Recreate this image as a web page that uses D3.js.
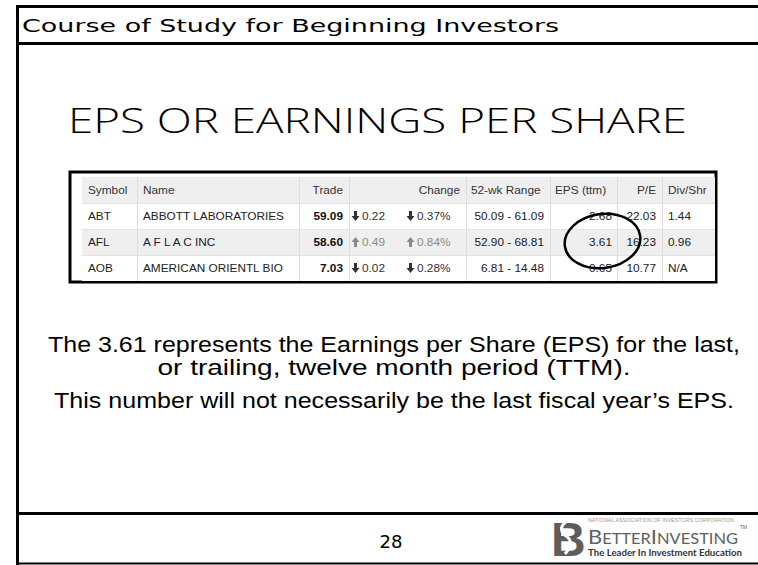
<!DOCTYPE html>
<html>
<head>
<meta charset="utf-8">
<script src="https://cdn.jsdelivr.net/npm/d3@7"></script>
<style>
  body { margin: 0; background: #fff; }
  svg { display: block; }
  .arial { font-family: "Liberation Sans", Arial, sans-serif; }
</style>
</head>
<body>
<div id="slide"></div>
<script>
// data
const headers = ['Symbol', 'Name', 'Trade', '', 'Change', '52-wk Range', 'EPS (ttm)', 'P/E', 'Div/Shr']
const symbols = ['ABT', 'AFL', 'AOB']
const names = ['ABBOTT LABORATORIES', 'A F L A C INC', 'AMERICAN ORIENTL BIO']
const trades = ['59.09', '58.60', '7.03']
const changeDir = ['down', 'up', 'down']
const changes = ['0.22', '0.49', '0.02']
const changePcts = ['0.37%', '0.84%', '0.28%']
const ranges = ['50.09 - 61.09', '52.90 - 68.81', '6.81 - 14.48']
const eps = ['2.68', '3.61', '0.65']
const pe = ['22.03', '16.23', '10.77']
const divs = ['1.44', '0.96', 'N/A']
const circled = 'AFL'

const title = 'EPS OR EARNINGS PER SHARE'
const course = 'Course of Study for Beginning Investors'
const bodyLines = [
  'The 3.61 represents the Earnings per Share (EPS) for the last,',
  'or trailing, twelve month period (TTM).',
  'This number will not necessarily be the last fiscal year\u2019s EPS.'
]
const pageNo = '28'

// const
const width = 758
const height = 565
const tableBox = { left: 70, right: 716, top: 172, bottom: 282 }

const svg = d3.select('#slide')
  .append('svg')
  .attr('width', width)
  .attr('height', height)
  .attr('viewBox', `0 0 ${width} ${height}`)

// slide frame
svg.append('rect').attr('x', 0).attr('y', 0).attr('width', width).attr('height', height).attr('fill', '#fff')
const frame = svg.append('g').attr('stroke', '#000').attr('fill', 'none')
frame.append('line').attr('x1', 16).attr('x2', width).attr('y1', 6.5).attr('y2', 6.5).attr('stroke-width', 3)
frame.append('line').attr('x1', 16).attr('x2', width).attr('y1', 43.5).attr('y2', 43.5).attr('stroke-width', 3)
frame.append('line').attr('x1', 16).attr('x2', width).attr('y1', 513.5).attr('y2', 513.5).attr('stroke-width', 3)
frame.append('line').attr('x1', 16).attr('x2', width).attr('y1', 563.5).attr('y2', 563.5).attr('stroke-width', 2)
frame.append('line').attr('x1', 17.5).attr('x2', 17.5).attr('y1', 5).attr('y2', height).attr('stroke-width', 3)

// header + title
svg.append('text')
  .attr('x', 22).attr('y', 32)
  .style('font-family', '"DejaVu Sans", sans-serif')
  .attr('font-size', 18.5)
  .attr('textLength', 537).attr('lengthAdjust', 'spacingAndGlyphs')
  .attr('fill', '#000')
  .text(course)

svg.append('text')
  .attr('x', 68).attr('y', 133)
  .style('font-family', '"Open Sans", "DejaVu Sans", sans-serif')
  .style('font-weight', 300)
  .attr('font-size', 34)
  .attr('textLength', 619).attr('lengthAdjust', 'spacingAndGlyphs')
  .attr('fill', '#000')
  .text(title)

// table
const rowKeys = ['header', ...symbols]
const y = d3.scaleBand()
  .domain(rowKeys)
  .range([177, 281])

// column edges: key, left, right, align
const cols = [
  { key: 'sym', x0: 82, x1: 137, align: 'start' },
  { key: 'name', x0: 137, x1: 299, align: 'start' },
  { key: 'trade', x0: 299, x1: 349, align: 'end' },
  { key: 'chg', x0: 349, x1: 400, align: 'start' },
  { key: 'pct', x0: 400, x1: 466, align: 'end' },
  { key: 'range', x0: 466, x1: 550, align: 'end' },
  { key: 'eps', x0: 550, x1: 617, align: 'end' },
  { key: 'pe', x0: 617, x1: 662, align: 'end' },
  { key: 'div', x0: 662, x1: 715, align: 'start' }
]
const x = d3.scaleOrdinal().domain(cols.map(c => c.key)).range(cols)

const table = svg.append('g').attr('class', 'arial').attr('font-size', 11.8)

table.append('rect')
  .attr('x', tableBox.left).attr('y', tableBox.top)
  .attr('width', tableBox.right - tableBox.left).attr('height', tableBox.bottom - tableBox.top)
  .attr('fill', '#fff').attr('stroke', '#000').attr('stroke-width', 3)

// row backgrounds
table.selectAll('rect.row')
  .data(rowKeys)
  .join('rect')
  .attr('class', 'row')
  .attr('x', 82).attr('width', 715 - 82)
  .attr('y', d => y(d)).attr('height', y.bandwidth())
  .attr('fill', (d, i) => i % 2 === 0 ? '#efefef' : '#fff')

// grid lines
table.selectAll('line.v')
  .data(cols.filter(c => c.key !== 'sym' && c.key !== 'pct'))
  .join('line')
  .attr('class', 'v')
  .attr('x1', c => c.x0 + 0.5).attr('x2', c => c.x0 + 0.5)
  .attr('y1', y('header')).attr('y2', y(symbols[symbols.length - 1]) + y.bandwidth())
  .attr('stroke', '#dcdcdc')
table.selectAll('line.h')
  .data(symbols)
  .join('line')
  .attr('class', 'h')
  .attr('x1', 82).attr('x2', 715)
  .attr('y1', d => y(d) + 0.5).attr('y2', d => y(d) + 0.5)
  .attr('stroke', '#e2e2e2')

const cellX = (key, pad) => {
  const c = x(key)
  return c.align === 'end' ? c.x1 - (pad ?? 6) : c.x0 + (pad ?? 6)
}
const cellY = r => y(r) + y.bandwidth() / 2 + 4

// header cells
const headerKeys = ['sym', 'name', 'trade', 'chg', 'pct', 'range', 'eps', 'pe', 'div']
table.selectAll('text.hd')
  .data(headers.map((h, i) => ({ h, key: headerKeys[i] })))
  .join('text')
  .attr('class', 'hd')
  .attr('x', d => d.key === 'range' ? 471 : d.key === 'eps' ? 555 : cellX(d.key))
  .attr('y', cellY('header'))
  .attr('text-anchor', d => (d.key === 'range' || d.key === 'eps') ? 'start' : x(d.key).align)
  .attr('fill', '#333')
  .text(d => d.h)

// body cells
const arrow = (g, dir, ax, ay, color) => {
  // arrow 7px wide, 10px tall
  const p = dir === 'down'
    ? `M${ax + 2},${ay} h3 v5 h2.5 l-4,5 l-4,-5 h2.5 z`
    : `M${ax + 2},${ay + 10} h3 v-5 h2.5 l-4,-5 l-4,5 h2.5 z`
  g.append('path').attr('d', p).attr('fill', color)
}

symbols.forEach((s, i) => {
  const g = table.append('g')
  const ty = cellY(s)
  const rowColor = '#222'
  const chgColor = changeDir[i] === 'up' ? '#8a8a8a' : '#333'
  g.append('text').attr('x', cellX('sym')).attr('y', ty).attr('fill', rowColor).text(s)
  g.append('text').attr('x', cellX('name')).attr('y', ty).attr('fill', rowColor).text(names[i])
  g.append('text').attr('x', cellX('trade')).attr('y', ty).attr('text-anchor', 'end')
    .attr('font-weight', 'bold').attr('fill', '#111').text(trades[i])
  arrow(g, changeDir[i], 352, ty - 9, chgColor)
  g.append('text').attr('x', 362).attr('y', ty).attr('fill', chgColor).text(changes[i])
  arrow(g, changeDir[i], 407, ty - 9, chgColor)
  g.append('text').attr('x', 417).attr('y', ty).attr('fill', chgColor).text(changePcts[i])
  g.append('text').attr('x', cellX('range')).attr('y', ty).attr('text-anchor', 'end').attr('fill', rowColor).text(ranges[i])
  g.append('text').attr('x', cellX('eps', 5)).attr('y', ty).attr('text-anchor', 'end').attr('fill', rowColor).text(eps[i])
  g.append('text').attr('x', cellX('pe')).attr('y', ty).attr('text-anchor', 'end').attr('fill', rowColor).text(pe[i])
  g.append('text').attr('x', cellX('div')).attr('y', ty).attr('fill', rowColor).text(divs[i])
})

// hand drawn circle around the EPS of the circled row
const epsCol = x('eps')
const ecx = (epsCol.x0 + epsCol.x1) / 2 + 19
const ecy = y(circled) + y.bandwidth() / 2 - 1
table.append('ellipse')
  .attr('cx', ecx).attr('cy', ecy)
  .attr('rx', 38).attr('ry', 27)
  .attr('transform', `rotate(-8, ${ecx}, ${ecy})`)
  .attr('fill', 'none').attr('stroke', '#000').attr('stroke-width', 2.5)

// body text
const lineSpec = [
  { y: 352, len: 692 },
  { y: 375, len: 473 },
  { y: 408, len: 680 }
]
svg.append('g')
  .attr('class', 'arial')
  .attr('font-size', 21.5)
  .attr('fill', '#000')
  .selectAll('text')
  .data(bodyLines)
  .join('text')
  .attr('x', 394)
  .attr('y', (d, i) => lineSpec[i].y)
  .attr('text-anchor', 'middle')
  .attr('textLength', (d, i) => lineSpec[i].len)
  .attr('lengthAdjust', 'spacingAndGlyphs')
  .text(d => d)

// footer
svg.append('text')
  .attr('x', 391).attr('y', 548)
  .attr('text-anchor', 'middle')
  .style('font-family', '"DejaVu Sans", sans-serif')
  .attr('font-size', 18)
  .text(pageNo)

const logo = svg.append('g').attr('fill', '#5d5d5d')
logo.append('text')
  .attr('class', 'arial')
  .attr('x', 551).attr('y', 556)
  .attr('font-weight', 'bold')
  .attr('font-size', 48)
  .text('B')
logo.append('path')
  .attr('d', 'M566,522 c-6,4 -6,10 0,14 c6,4 6,10 -1,18')
  .attr('fill', 'none').attr('stroke', '#fff').attr('stroke-width', 3)
logo.append('text')
  .attr('class', 'arial')
  .attr('x', 588).attr('y', 522)
  .attr('font-size', 4.5)
  .attr('fill', '#999')
  .attr('textLength', 146).attr('lengthAdjust', 'spacingAndGlyphs')
  .text('NATIONAL ASSOCIATION OF INVESTORS CORPORATION')
const brand = logo.append('text')
  .attr('x', 588).attr('y', 544)
  .style('font-family', 'Lato, "Liberation Sans", sans-serif')
  .attr('fill', '#606060')
  .attr('textLength', 150).attr('lengthAdjust', 'spacingAndGlyphs')
brand.append('tspan').attr('font-size', 20).text('B')
brand.append('tspan').attr('font-size', 15).text('ETTER')
brand.append('tspan').attr('font-size', 20).text('I')
brand.append('tspan').attr('font-size', 15).text('NVESTING')
logo.append('text')
  .attr('class', 'arial')
  .attr('x', 740).attr('y', 529)
  .attr('font-size', 5)
  .text('TM')
logo.append('text')
  .attr('x', 588).attr('y', 556)
  .style('font-family', 'Lato, "Liberation Sans", sans-serif')
  .attr('font-weight', 'bold')
  .attr('font-size', 10)
  .attr('fill', '#333')
  .attr('textLength', 154).attr('lengthAdjust', 'spacingAndGlyphs')
  .text('The Leader In Investment Education')
</script>
</body>
</html>
